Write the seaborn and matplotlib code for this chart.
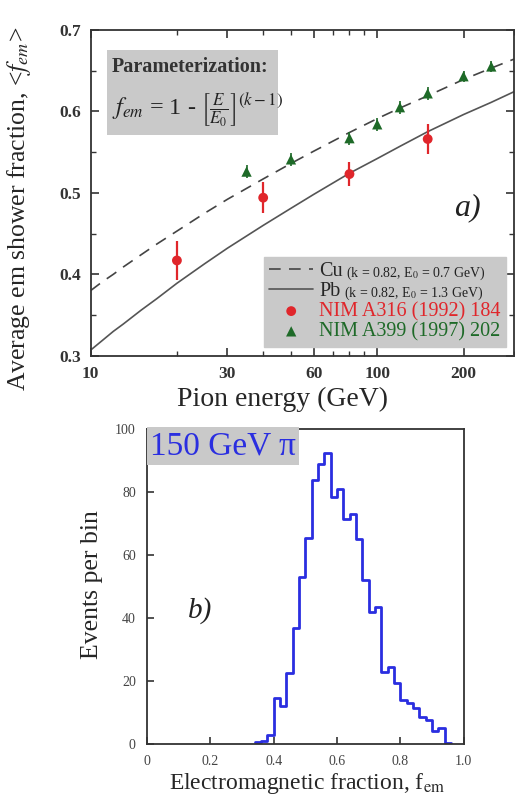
import numpy as np
import pandas as pd
import matplotlib
matplotlib.use("Agg")
import matplotlib.pyplot as plt
import seaborn as sns
from matplotlib.patches import Rectangle
from matplotlib.ticker import FixedLocator, FixedFormatter, NullFormatter, MultipleLocator

# ---- panel a) data (read from picture) ----
curve_energy = [10, 11, 12, 13, 15, 17, 20, 25, 30, 40, 50, 60, 80, 100, 120, 150, 200, 250, 300]
cu_curve = [0.380, 0.391, 0.400, 0.409, 0.424, 0.437, 0.453, 0.475, 0.492, 0.517, 0.536,
            0.551, 0.574, 0.591, 0.604, 0.619, 0.639, 0.653, 0.664]
pb_curve = [0.307, 0.319, 0.330, 0.339, 0.356, 0.370, 0.389, 0.413, 0.432, 0.460, 0.481,
            0.498, 0.524, 0.542, 0.557, 0.575, 0.596, 0.611, 0.624]

a316_energy = [20, 40, 80, 150]
a316_frac = [0.417, 0.494, 0.523, 0.566]
a316_err = [0.024, 0.019, 0.015, 0.019]

a399_energy = [35, 50, 80, 100, 120, 150, 200, 250]
a399_frac = [0.526, 0.541, 0.567, 0.584, 0.605, 0.622, 0.643, 0.655]
a399_err = [0.008, 0.008, 0.008, 0.008, 0.008, 0.008, 0.007, 0.007]

x_ticks_a = [10, 30, 60, 100, 200]
y_ticks_a = [0.3, 0.4, 0.5, 0.6, 0.7]

# ---- panel b) data ----
bin_starts = [0.34, 0.36, 0.38, 0.40, 0.42, 0.44, 0.46, 0.48, 0.50, 0.52, 0.54, 0.56,
              0.58, 0.60, 0.62, 0.64, 0.66, 0.68, 0.70, 0.72, 0.74, 0.76, 0.78, 0.80,
              0.82, 0.84, 0.86, 0.88, 0.90, 0.92, 0.94]
bin_counts = [0.5, 0.8, 3, 14.5, 12, 22.5, 37, 53, 65.5, 84, 89, 92.5,
              78.5, 81, 71.5, 73, 65, 52, 42, 43.5, 23, 24.5, 19.5, 14,
              13, 11.5, 8.5, 7.5, 4, 5, 0.3]
bin_width = 0.02

RED = "#e0262b"
GREEN = "#1e6a28"
BLUE = "#2a2ee0"
GRAY_BOX = "#c9c9c9"

sns.set_theme(style="ticks")
plt.rcParams["font.family"] = ["Liberation Serif", "DejaVu Serif"]
plt.rcParams["mathtext.fontset"] = "stix"
plt.rcParams["axes.linewidth"] = 1.3
plt.rcParams["axes.edgecolor"] = "#333333"

fig = plt.figure(figsize=(5.15, 8.05), dpi=100)
ax1 = fig.add_axes([0.176, 0.558, 0.822, 0.405])
ax2 = fig.add_axes([0.2854, 0.0758, 0.615, 0.391])

# ---------------- panel a ----------------
curves = pd.DataFrame({"E": curve_energy, "Cu": cu_curve, "Pb": pb_curve})
sns.lineplot(data=curves, x="E", y="Cu", ax=ax1, color="#444444", lw=1.2,
             label="Cu", sort=True)
sns.lineplot(data=curves, x="E", y="Pb", ax=ax1, color="#555555", lw=1.2,
             label="Pb", sort=True)
ax1.lines[0].set_dashes([7, 5])

ax1.errorbar(a316_energy, a316_frac, yerr=a316_err, fmt="none", ecolor=RED,
             elinewidth=1.6, capsize=0, zorder=3)
ax1.errorbar(a399_energy, a399_frac, yerr=a399_err, fmt="none", ecolor=GREEN,
             elinewidth=1.2, capsize=0, zorder=3)
sns.scatterplot(x=a316_energy, y=a316_frac, ax=ax1, color=RED, marker="o", s=50,
                edgecolor="none", zorder=4, label="NIM A316 (1992) 184")
sns.scatterplot(x=a399_energy, y=a399_frac, ax=ax1, color=GREEN, marker="^", s=55,
                edgecolor="none", zorder=4, label="NIM A399 (1997) 202")

ax1.set_xscale("log")
ax1.set_xlim(10, 300)
ax1.set_ylim(0.3, 0.7)
ax1.xaxis.set_major_locator(FixedLocator(x_ticks_a))
ax1.xaxis.set_major_formatter(FixedFormatter([str(t) for t in x_ticks_a]))
ax1.xaxis.set_minor_locator(FixedLocator([20, 40, 50, 70, 80, 90, 300]))
ax1.xaxis.set_minor_formatter(NullFormatter())
ax1.yaxis.set_major_locator(FixedLocator(y_ticks_a))
ax1.yaxis.set_major_formatter(FixedFormatter([f"{t:.1f}" for t in y_ticks_a]))
ax1.yaxis.set_minor_locator(MultipleLocator(0.05))
ax1.tick_params(which="both", direction="in", top=True, right=True, color="#333333")
ax1.tick_params(which="major", length=6, width=1.2, labelsize=12.5, pad=7)
ax1.tick_params(which="minor", length=3.5, width=1.0)
for lab in ax1.get_xticklabels() + ax1.get_yticklabels():
    lab.set_fontweight("bold")
    lab.set_color("#333333")

ax1.set_xlabel("Pion energy (GeV)", fontsize=20)
ax1.set_ylabel("Average em shower fraction, <$f_{em}$>", fontsize=18.5)
ax1.xaxis.set_label_coords(0.454, -0.095)
ax1.yaxis.set_label_coords(-0.136, 0.45)

leg = ax1.legend(loc="lower right", bbox_to_anchor=(0.981, 0.028), frameon=True,
                 fancybox=False, facecolor=GRAY_BOX, edgecolor=GRAY_BOX, framealpha=1,
                 fontsize=14.5, handlelength=2.2, handletextpad=0.3,
                 labelspacing=0.05, borderpad=0.25, borderaxespad=0)
leg_texts = leg.get_texts()
leg_texts[2].set_color(RED)
leg_texts[3].set_color(GREEN)

ax1.add_patch(Rectangle((0.0385, 0.678), 0.404, 0.26, transform=ax1.transAxes,
                        facecolor=GRAY_BOX, edgecolor="none", zorder=1))
ax1.text(0.05, 0.886, "Parameterization:", transform=ax1.transAxes, fontsize=14.5,
         fontweight="bold", color="#333333", va="center", ha="left", zorder=2)
ax1.text(0.05, 0.752, r"$f_{em}$ = 1 - $\left[\frac{E}{E_0}\right]^{(k-1)}$",
         transform=ax1.transAxes, fontsize=17.5, color="#222222", va="center",
         ha="left", zorder=2)
ax1.text(0.889, 0.454, "a)", transform=ax1.transAxes, fontsize=23, style="italic",
         ha="center", va="center", color="#222222")

# ---------------- panel b ----------------
hist_df = pd.DataFrame({"frac": [b + bin_width / 2 for b in bin_starts],
                        "n": bin_counts})
bin_edges = bin_starts + [bin_starts[-1] + bin_width]
sns.histplot(data=hist_df, x="frac", weights="n", bins=bin_edges, element="step",
             fill=False, color=BLUE, linewidth=2.0, ax=ax2)

ax2.set_xlim(0, 1)
ax2.set_ylim(0, 100)
ax2.xaxis.set_major_locator(FixedLocator([0, 0.2, 0.4, 0.6, 0.8, 1.0]))
ax2.xaxis.set_major_formatter(FixedFormatter(["0", "0.2", "0.4", "0.6", "0.8", "1.0"]))
ax2.yaxis.set_major_locator(FixedLocator([0, 20, 40, 60, 80, 100]))
ax2.yaxis.set_major_formatter(FixedFormatter(["0", "20", "40", "60", "80", "100"]))
ax2.tick_params(direction="in", length=5, width=1.2, labelsize=10, pad=8,
                labelcolor="#444444", color="#333333")
ax2.set_xlabel("Electromagnetic fraction, f$_{\\rm em}$", fontsize=17)
ax2.set_ylabel("Events per bin", fontsize=18.5)
ax2.xaxis.set_label_coords(0.505, -0.085)
ax2.yaxis.set_label_coords(-0.138, 0.505)

ax2.text(0.01, 0.995, "150 GeV π", transform=ax2.transAxes, fontsize=24, color=BLUE,
         ha="left", va="top",
         bbox=dict(boxstyle="square,pad=0.1", facecolor=GRAY_BOX, edgecolor="none"))
ax2.text(0.167, 0.425, "b)", transform=ax2.transAxes, fontsize=21, style="italic",
         ha="center", va="center", color="#222222")

# small parameter notes next to the Cu / Pb legend entries
fig.canvas.draw()
inv = ax1.transAxes.inverted()
notes = ["(k = 0.82, E$_0$ = 0.7 GeV)", "(k = 0.82, E$_0$ = 1.3 GeV)"]
for txt, note in zip(leg_texts[:2], notes):
    bb = txt.get_window_extent()
    x_ax, y_ax = inv.transform((bb.x1 + 3, bb.y0 + 0.42 * bb.height))
    ax1.text(x_ax, y_ax, note, transform=ax1.transAxes, fontsize=10,
             va="center", ha="left", color="#222222", zorder=6)

fig.savefig("out.png", dpi=100)
plt.close(fig)
